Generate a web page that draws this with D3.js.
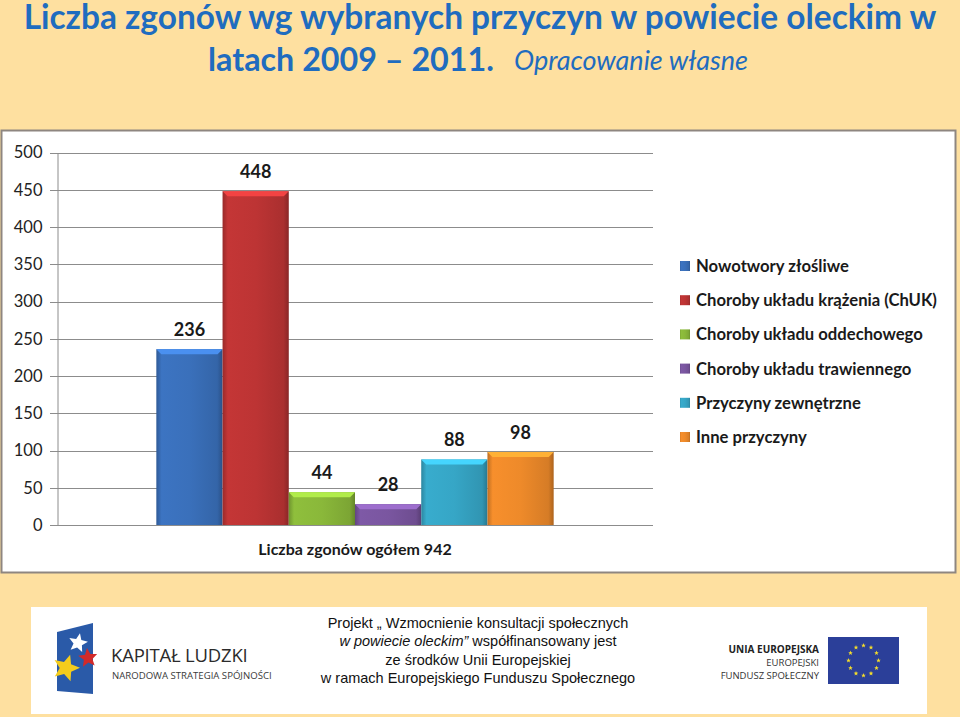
<!DOCTYPE html>
<html>
<head>
<meta charset="utf-8">
<script src="https://cdn.jsdelivr.net/npm/d3@7"></script>
<style>
  html, body { margin: 0; padding: 0; background: #fee0a0; }
  svg { display: block; }
</style>
</head>
<body>
<svg id="chart" width="960" height="717"></svg>
<script>
// data
var causes = [
    'Nowotwory złośliwe',
    'Choroby układu krążenia (ChUK)',
    'Choroby układu oddechowego',
    'Choroby układu trawiennego',
    'Przyczyny zewnętrzne',
    'Inne przyczyny'
];
var deaths = [236, 448, 44, 28, 88, 98];
var barColors = ['#3a70bb', '#bd3434', '#8ab83a', '#7a56a0', '#36a6c6', '#ee8a2a'];
var yTicks = [0, 50, 100, 150, 200, 250, 300, 350, 400, 450, 500];
var categoryLabel = 'Liczba zgonów ogółem 942';

var titleLines = ['Liczba zgonów wg wybranych przyczyn w powiecie oleckim w', 'latach 2009 – 2011.'];
var titleNote = 'Opracowanie własne';
var footerLines = [
    [{t: 'Projekt „ Wzmocnienie konsultacji społecznych', i: false}],
    [{t: 'w powiecie oleckim”', i: true}, {t: ' współfinansowany jest', i: false}],
    [{t: 'ze środków  Unii Europejskiej', i: false}],
    [{t: 'w ramach Europejskiego Funduszu Społecznego', i: false}]
];

var FONT = 'Lato, "Open Sans", sans-serif';
var svg = d3.select('#chart');
var defs = svg.append('defs');

// fit a text element to a target width by tweaking font size
function fitWidth(sel, w) {
    var n = sel.node();
    var len = n.getComputedTextLength();
    var fs = parseFloat(sel.attr('font-size'));
    sel.attr('font-size', (fs * w / len).toFixed(2));
}

// ---- title ----
var t1 = svg.append('text')
    .attr('x', 480).attr('y', 29)
    .attr('text-anchor', 'middle')
    .attr('font-family', FONT).attr('font-weight', 'bold')
    .attr('font-size', 32).attr('fill', '#1f6cbf')
    .text(titleLines[0]);
fitWidth(t1, 913);

var t2 = svg.append('text')
    .attr('x', 208).attr('y', 71)
    .attr('font-family', FONT).attr('font-weight', 'bold')
    .attr('font-size', 32).attr('fill', '#1f6cbf')
    .text(titleLines[1]);
fitWidth(t2, 286);

var t3 = svg.append('text')
    .attr('x', 514).attr('y', 70)
    .attr('font-family', FONT).attr('font-style', 'italic')
    .attr('font-size', 22).attr('fill', '#1f6cbf')
    .text(titleNote);
fitWidth(t3, 234);

// ---- chart panel ----
svg.append('rect')
    .attr('x', 1.5).attr('y', 130.5).attr('width', 954).attr('height', 442)
    .attr('fill', '#ffffff').attr('stroke', '#8e8680').attr('stroke-width', 2);

var y = d3.scaleLinear().domain([0, 500]).range([525, 152.5]);
var x = d3.scaleBand().domain(d3.range(deaths.length))
    .range([57, 653]).paddingInner(0).paddingOuter(1.5);

// grid
svg.append('g').selectAll('line').data(yTicks).join('line')
    .attr('x1', 50).attr('x2', 653)
    .attr('y1', function(d) { return Math.round(y(d)) + 0.5; })
    .attr('y2', function(d) { return Math.round(y(d)) + 0.5; })
    .attr('stroke', '#8c8c8c').attr('stroke-width', 1);

var yAxis = svg.append('g')
    .attr('transform', 'translate(57.5,0)')
    .call(d3.axisLeft(y).tickValues(yTicks).tickSize(0).tickPadding(15));
yAxis.select('.domain').attr('stroke', '#8c8c8c');
yAxis.selectAll('text')
    .attr('font-family', FONT).attr('font-size', 16.5).attr('fill', '#222');

// bar gradients (bevelled look)
barColors.forEach(function(c, i) {
    var g = defs.append('linearGradient').attr('id', 'bar' + i)
        .attr('x1', 0).attr('x2', 1).attr('y1', 0).attr('y2', 0);
    var base = d3.color(c);
    g.append('stop').attr('offset', '0%').attr('stop-color', base.darker(0.6));
    g.append('stop').attr('offset', '8%').attr('stop-color', base.brighter(0.1));
    g.append('stop').attr('offset', '50%').attr('stop-color', base);
    g.append('stop').attr('offset', '92%').attr('stop-color', base.darker(0.3));
    g.append('stop').attr('offset', '100%').attr('stop-color', base.darker(0.9));
});

var bars = svg.append('g').selectAll('g').data(deaths).join('g');
bars.append('rect')
    .attr('x', function(d, i) { return x(i); })
    .attr('y', function(d) { return y(d); })
    .attr('width', x.bandwidth())
    .attr('height', function(d) { return y(0) - y(d); })
    .attr('fill', function(d, i) { return 'url(#bar' + i + ')'; });
// top bevel
bars.append('path')
    .attr('d', function(d, i) {
        var x0 = x(i), x1 = x(i) + x.bandwidth(), y0 = y(d);
        return 'M' + x0 + ',' + y0 + 'L' + x1 + ',' + y0 +
            'L' + (x1 - 5) + ',' + (y0 + 5) + 'L' + (x0 + 5) + ',' + (y0 + 5) + 'Z';
    })
    .attr('fill', function(d, i) { return d3.color(barColors[i]).brighter(0.7); });

bars.append('text')
    .attr('x', function(d, i) { return x(i) + x.bandwidth() / 2; })
    .attr('y', function(d) { return y(d) - 13; })
    .attr('text-anchor', 'middle')
    .attr('font-family', FONT).attr('font-weight', 'bold')
    .attr('font-size', 18).attr('fill', '#1a1a1a')
    .text(function(d) { return d; });

svg.append('text')
    .attr('x', 355).attr('y', 555)
    .attr('text-anchor', 'middle')
    .attr('font-family', FONT).attr('font-weight', 'bold')
    .attr('font-size', 16).attr('fill', '#1a1a1a')
    .text(categoryLabel);

// legend
var legend = svg.append('g').selectAll('g').data(causes).join('g')
    .attr('transform', function(d, i) { return 'translate(680,' + (266 + i * 34.2) + ')'; });
legend.append('rect')
    .attr('x', 0).attr('y', -5).attr('width', 10).attr('height', 10)
    .attr('fill', function(d, i) { return 'url(#bar' + i + ')'; });
var lt = legend.append('text')
    .attr('x', 16).attr('y', 6)
    .attr('font-family', FONT).attr('font-weight', 'bold')
    .attr('font-size', 16).attr('fill', '#1a1a1a')
    .text(function(d) { return d; });
fitWidth(d3.select(lt.nodes()[1]), 241);
lt.attr('font-size', d3.select(lt.nodes()[1]).attr('font-size'));

// ---- footer ----
svg.append('rect')
    .attr('x', 31).attr('y', 607).attr('width', 896).attr('height', 107)
    .attr('fill', '#ffffff');

// Kapitał Ludzki logo
var kl = svg.append('g');
kl.append('path')
    .attr('d', 'M57,632 L93,623 L93,694 L57,691 Z')
    .attr('fill', '#2a5aa8');

function star(cx, cy, r, rot) {
    var pts = [];
    for (var k = 0; k < 10; k++) {
        var a = rot + k * Math.PI / 5 - Math.PI / 2;
        var rr = k % 2 ? r * 0.45 : r;
        pts.push([cx + rr * Math.cos(a), cy + rr * Math.sin(a)]);
    }
    return 'M' + pts.join('L') + 'Z';
}
kl.append('path').attr('d', star(78, 643, 10, 0.2)).attr('fill', '#ffffff');
kl.append('path').attr('d', star(88, 658, 10, -0.1)).attr('fill', '#d12a2a');
kl.append('path').attr('d', star(66, 668, 14, 0.3)).attr('fill', '#f4cc1c');

svg.append('text')
    .attr('x', 111).attr('y', 662)
    .attr('font-family', '"Open Sans", sans-serif').attr('font-size', 18.5)
    .attr('fill', '#2b2b2b').attr('letter-spacing', -0.2)
    .text('KAPITAŁ LUDZKI');
svg.append('text')
    .attr('x', 112).attr('y', 679)
    .attr('font-family', '"Open Sans", sans-serif').attr('font-size', 9.6)
    .attr('fill', '#3a3a3a')
    .text('NARODOWA STRATEGIA SPÓJNOŚCI');

// project text
var ft = svg.append('g');
footerLines.forEach(function(parts, i) {
    var t = ft.append('text')
        .attr('x', 478).attr('y', 628 + i * 18.3)
        .attr('text-anchor', 'middle')
        .attr('font-family', '"Liberation Sans", Arial, sans-serif')
        .attr('font-size', 14.5).attr('fill', '#111');
    parts.forEach(function(p) {
        t.append('tspan').attr('font-style', p.i ? 'italic' : 'normal').text(p.t);
    });
});

// EU logo
svg.append('text')
    .attr('x', 819).attr('y', 653).attr('text-anchor', 'end')
    .attr('font-family', '"Open Sans", sans-serif').attr('font-weight', 'bold')
    .attr('font-size', 10).attr('fill', '#222')
    .text('UNIA EUROPEJSKA');
svg.append('text')
    .attr('x', 819).attr('y', 666).attr('text-anchor', 'end')
    .attr('font-family', '"Open Sans", sans-serif')
    .attr('font-size', 9.5).attr('fill', '#333')
    .text('EUROPEJSKI');
svg.append('text')
    .attr('x', 819).attr('y', 679).attr('text-anchor', 'end')
    .attr('font-family', '"Open Sans", sans-serif')
    .attr('font-size', 9.5).attr('fill', '#333')
    .text('FUNDUSZ SPOŁECZNY');

svg.append('rect')
    .attr('x', 828).attr('y', 637).attr('width', 71).attr('height', 47)
    .attr('fill', '#2b3f99');
var eu = svg.append('g');
d3.range(12).forEach(function(k) {
    var a = k * Math.PI / 6;
    eu.append('path')
        .attr('d', star(863.5 + 15 * Math.cos(a), 660.5 + 15 * Math.sin(a), 2.4, 0))
        .attr('fill', '#f5dd2a');
});
</script>
</body>
</html>
